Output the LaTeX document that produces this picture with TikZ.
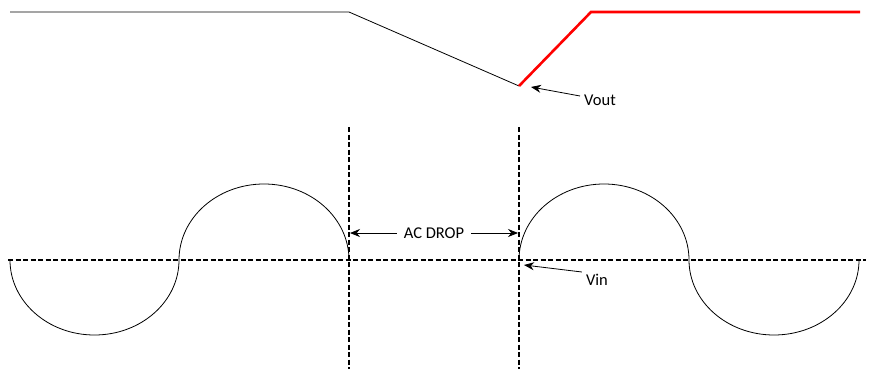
\documentclass[tikz,border=0pt]{standalone}
\usepackage{fontspec}
\setmainfont{Carlito}
\usetikzlibrary{arrows.meta}

\tikzset{
    guide/.style={line width=1.5pt, dash pattern=on 5pt off 2.5pt},
    wave/.style={line width=0.8pt},
    pointer/.style={-{Stealth[length=10pt,width=8pt]}, line width=0.8pt},
    label/.style={font=\fontsize{16.5}{19}\selectfont, inner sep=1pt}
}

\begin{document}
\begin{tikzpicture}[x=1pt, y=-1pt]
    \useasboundingbox (0,0) rectangle (888,369);

    % Output voltage
    \coordinate (o1) at (10,12);
    \coordinate (o2) at (349,12);
    \coordinate (o3) at (519,86);
    \coordinate (o4) at (591,12);
    \coordinate (o5) at (860,12);
    \draw[line width=0.8pt] (o1) -- (o2) -- (o3);
    \draw[red, line width=2.6pt] (o3) -- (o4) -- (o5);

    % Reference lines
    \coordinate (zl) at (8,260);
    \coordinate (zr) at (866,260);
    \coordinate (d1t) at (349,127);
    \coordinate (d1b) at (349,369);
    \coordinate (d2t) at (519,127);
    \coordinate (d2b) at (519,369);
    \draw[guide] (zl) -- (zr);
    \draw[guide] (d1t) -- (d1b);
    \draw[guide] (d2t) -- (d2b);

    % Input voltage
    \draw[wave] (10,260) arc[start angle=180, end angle=0, x radius=84.5, y radius=75]
        arc[start angle=180, end angle=360, x radius=85, y radius=76];
    \draw[wave] (519,260) arc[start angle=180, end angle=360, x radius=85, y radius=76]
        arc[start angle=180, end angle=0, x radius=85, y radius=75];

    % Labels
    \node[label] (vout) at (600,100) {Vout};
    \node[label] (vin) at (597,280) {Vin};
    \node[label] (drop) at (434,233) {AC DROP};

    % Arrows
    \coordinate (voutp) at (531,87);
    \coordinate (vinp) at (524,265);
    \coordinate (dropl) at (350,233);
    \coordinate (dropr) at (518,233);
    \draw[pointer] (vout.west) ++(-3,-4) -- (voutp);
    \draw[pointer] (vin.west) ++(-3,-8) -- (vinp);
    \draw[pointer] (drop.west) ++(-6,0) -- (dropl);
    \draw[pointer] (drop.east) ++(6,0) -- (dropr);

\end{tikzpicture}
\end{document}
